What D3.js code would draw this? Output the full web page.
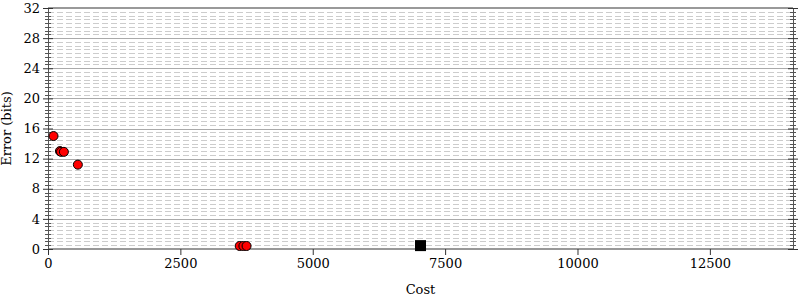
<!DOCTYPE html>
<html>
<head>
<meta charset="utf-8">
<script src="https://cdn.jsdelivr.net/npm/d3@7"></script>
<style>
  body { margin: 0; background: #fff; }
  svg text { font-family: "DejaVu Serif", serif; fill: #000; }
</style>
</head>
<body>
<div id="chart"></div>
<script>
// data
let redCost = [104, 225, 245, 300, 564, 3620, 3690, 3750];
let redError = [15.0, 13.0, 12.9, 12.9, 11.2, 0.4, 0.4, 0.4];
let blackCost = [7035];
let blackError = [0.45];
let xTicks = [0, 2500, 5000, 7500, 10000, 12500];
let yTicks = [0, 4, 8, 12, 16, 20, 24, 28, 32];

let svgWidth = 800;
let svgHeight = 300;
let margin = { top: 8, right: 7, bottom: 51, left: 48 };
let width = svgWidth - margin.left - margin.right;
let height = svgHeight - margin.top - margin.bottom;

let svg = d3.select('#chart').append('svg')
    .attr('width', svgWidth)
    .attr('height', svgHeight)
    .append('g')
    .attr('transform', `translate(${margin.left},${margin.top})`);

let x = d3.scaleLinear().domain([0, 2 * d3.max(blackCost)]).range([0, width]);
let y = d3.scaleLinear().domain([0, 32]).range([height, 0]);

let minorY = d3.range(0, 32.01, 0.5).filter(v => v % 4 != 0);

// minor grid
svg.append('g').selectAll('line')
    .data(minorY)
    .enter().append('line')
    .attr('x1', 0).attr('x2', width)
    .attr('y1', d => Math.round(y(d)) + 0.5).attr('y2', d => Math.round(y(d)) + 0.5)
    .attr('stroke', '#ccc')
    .attr('stroke-dasharray', '6,3');

// major grid
svg.append('g').selectAll('line')
    .data(yTicks)
    .enter().append('line')
    .attr('x1', 0).attr('x2', width)
    .attr('y1', d => Math.round(y(d)) + 0.5).attr('y2', d => Math.round(y(d)) + 0.5)
    .attr('stroke', '#aaa');

// frame lines
svg.append('line').attr('x1', 0).attr('x2', width).attr('y1', 0).attr('y2', 0)
    .attr('stroke', '#999').attr('stroke-width', 2);
svg.append('line').attr('x1', 0).attr('x2', width).attr('y1', height).attr('y2', height)
    .attr('stroke', '#999').attr('stroke-width', 2);

// left axis
let yAxis = svg.append('g')
    .call(d3.axisLeft(y).tickValues(yTicks).tickSizeInner(5).tickSizeOuter(0).tickPadding(3));
yAxis.select('.domain').attr('stroke', '#555');
yAxis.selectAll('.tick line').attr('x2', -5).attr('x1', 5).attr('stroke', '#333');
yAxis.selectAll('text').attr('font-size', 13).attr('font-family', 'DejaVu Serif');

svg.append('g').selectAll('line')
    .data(minorY)
    .enter().append('line')
    .attr('x1', -3).attr('x2', 3)
    .attr('y1', d => Math.round(y(d)) + 0.5).attr('y2', d => Math.round(y(d)) + 0.5)
    .attr('stroke', '#555');

// right axis
let yAxisR = svg.append('g')
    .attr('transform', `translate(${width},0)`)
    .call(d3.axisRight(y).tickValues(yTicks).tickSizeInner(5).tickSizeOuter(0).tickFormat(''));
yAxisR.select('.domain').attr('stroke', '#555');
yAxisR.selectAll('.tick line').attr('x1', -5).attr('x2', 5).attr('stroke', '#333');

svg.append('g')
    .attr('transform', `translate(${width},0)`)
    .selectAll('line')
    .data(minorY)
    .enter().append('line')
    .attr('x1', -3).attr('x2', 3)
    .attr('y1', d => Math.round(y(d)) + 0.5).attr('y2', d => Math.round(y(d)) + 0.5)
    .attr('stroke', '#555');

// bottom axis
let xAxis = svg.append('g')
    .attr('transform', `translate(0,${height})`)
    .call(d3.axisBottom(x).tickValues(xTicks).tickFormat(d3.format('d')).tickSizeInner(6).tickSizeOuter(0).tickPadding(4));
xAxis.select('.domain').remove();
xAxis.selectAll('.tick line').attr('stroke', '#333');
xAxis.selectAll('text').attr('font-size', 13).attr('font-family', 'DejaVu Serif');

// labels
svg.append('text')
    .attr('x', width / 2)
    .attr('y', height + 45)
    .attr('text-anchor', 'middle')
    .attr('font-size', 13)
    .text('Cost');

svg.append('text')
    .attr('transform', `translate(${-37},${height / 2}) rotate(-90)`)
    .attr('text-anchor', 'middle')
    .attr('font-size', 13)
    .text('Error (bits)');

// points
let red = redCost.map((c, i) => [c, redError[i]]);
svg.append('g').selectAll('circle')
    .data(red)
    .enter().append('circle')
    .attr('cx', d => x(d[0]))
    .attr('cy', d => y(d[1]))
    .attr('r', 4.5)
    .attr('fill', '#f00')
    .attr('stroke', '#000')
    .attr('stroke-width', 1);

let black = blackCost.map((c, i) => [c, blackError[i]]);
svg.append('g').selectAll('rect')
    .data(black)
    .enter().append('rect')
    .attr('x', d => x(d[0]) - 5.5)
    .attr('y', d => y(d[1]) - 5.5)
    .attr('width', 11)
    .attr('height', 11)
    .attr('fill', '#000');
</script>
</body>
</html>
